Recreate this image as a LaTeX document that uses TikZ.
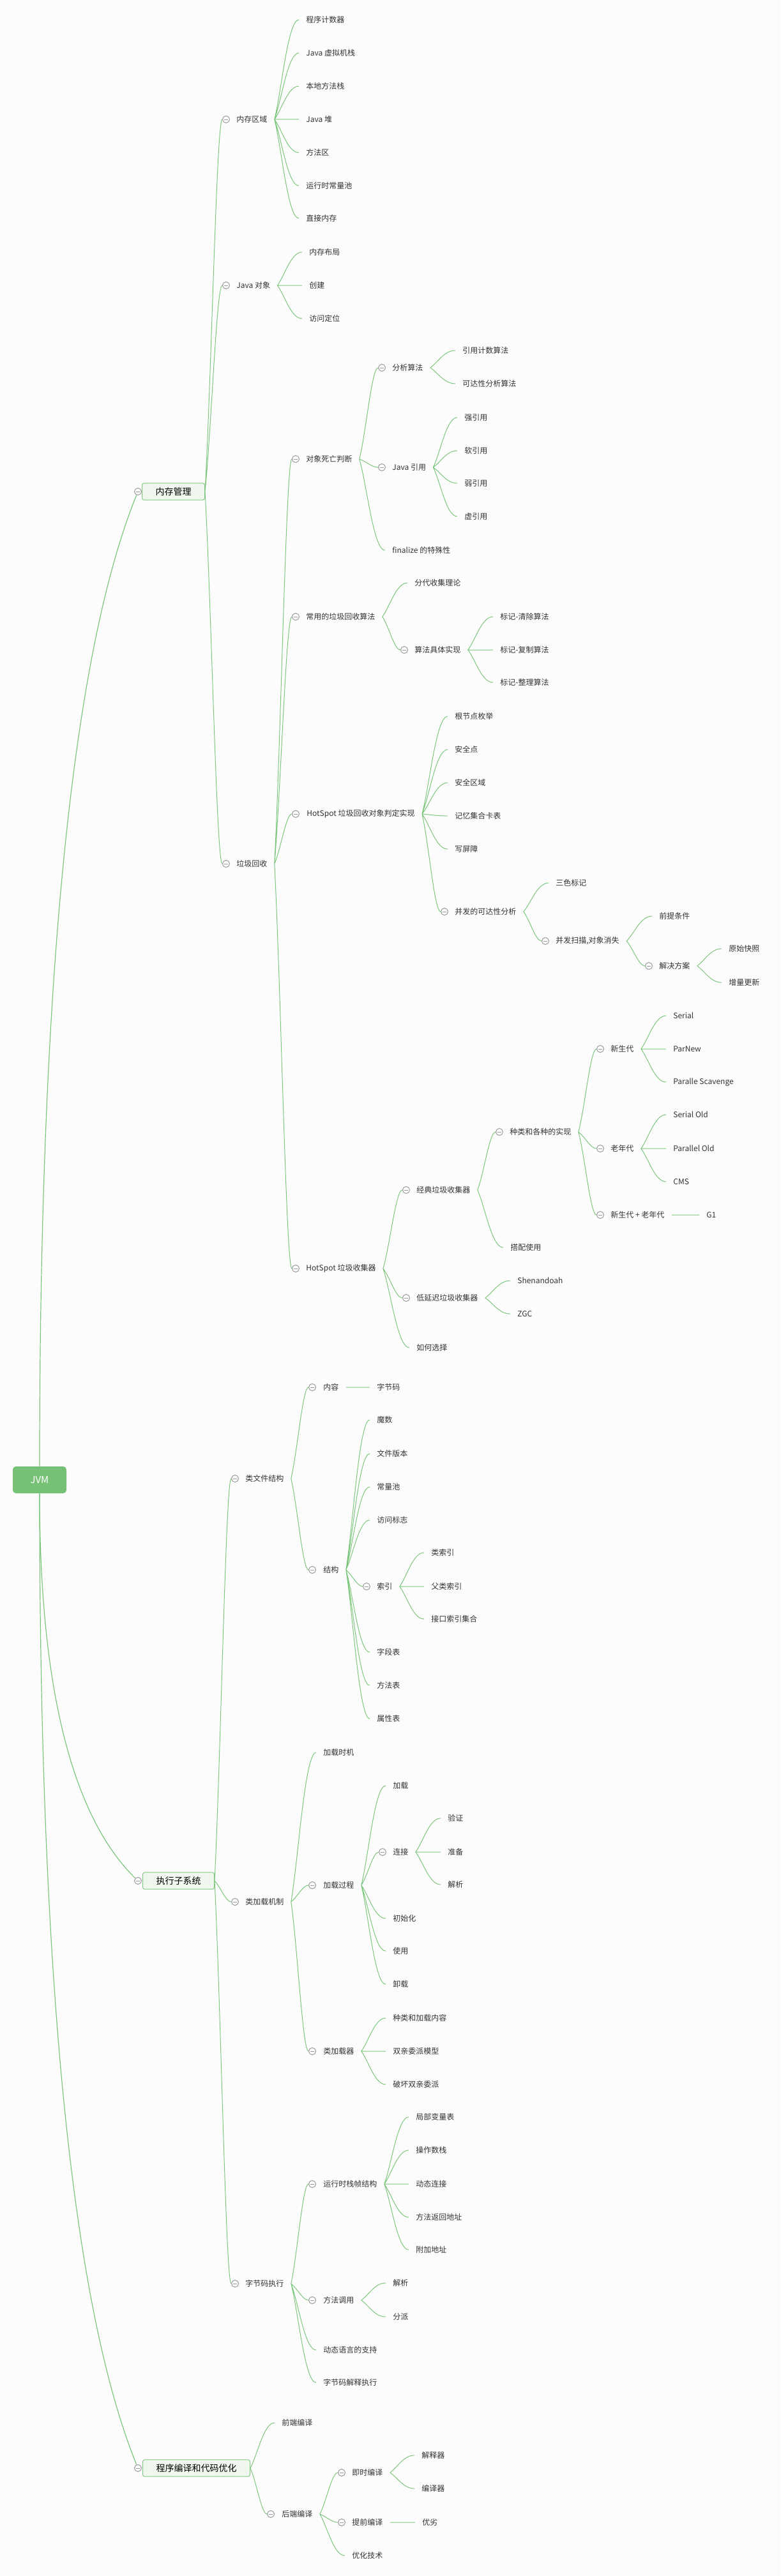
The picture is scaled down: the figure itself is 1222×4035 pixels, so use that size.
\documentclass[tikz,border=0pt]{standalone}
\usepackage{fontspec}
\newfontfamily\cjk{Noto Sans CJK SC}
\usetikzlibrary{calc}
\definecolor{paper}{HTML}{FCFCFC}
\definecolor{linkgreen}{HTML}{7DC67D}
\definecolor{boxfill}{HTML}{F0F7EE}
\definecolor{boxline}{HTML}{85C785}
\definecolor{rootgreen}{HTML}{76C176}
\definecolor{foldgray}{HTML}{9A9A9A}
\definecolor{inktext}{HTML}{333333}
\tikzset{
  item/.style={anchor=west, inner xsep=5.5pt, inner ysep=1pt, text=inktext, font=\cjk\fontsize{6}{7}\selectfont},
  box/.style={anchor=west, draw=boxline, fill=boxfill, rounded corners=1.5pt, line width=0.5pt, minimum height=13pt, inner xsep=10.5pt, text=black, font=\cjk\fontsize{7}{8}\selectfont},
  root/.style={fill=rootgreen, rounded corners=2.5pt, minimum width=42pt, minimum height=21pt, text=white, font=\cjk\fontsize{7.5}{9}\selectfont},
  fold/.style={circle, draw=foldgray, fill=white, line width=0.5pt, minimum size=5.5pt, inner sep=0pt,
    path picture={\draw[foldgray, line width=0.45pt] ([xshift=-1.7pt]path picture bounding box.center) -- ([xshift=1.7pt]path picture bounding box.center);}},
  link/.style={draw=linkgreen, line width=0.5pt, to path={.. controls ($(\tikztostart)!0.3!(\tikztotarget)$) and ($(\tikztotarget)!0.45!(\tikztotarget -| \tikztostart)$) .. (\tikztotarget)}},
  rootlink/.style={draw=linkgreen, line width=0.6pt}
}
\begin{document}
\begin{tikzpicture}[x=0.5pt,y=-0.5pt]
\fill[paper] (0,0) rectangle (1222,4035);

\node[root] (jvm) at (62,2318) {JVM};

\node[box] (mm) at (222,770) {内存管理};
\node[fold] (mm-o) at (216,770) {};
\node[box] (zx) at (223,2946) {执行子系统};
\node[fold] (zx-o) at (216,2946) {};
\node[box] (by) at (223,3866) {程序编译和代码优化};
\node[fold] (by-o) at (216,3866) {};

\node[fold] (mq-o) at (354,187) {};
\node[item] (mq) at (359,187) {内存区域};
\node[item] (mq1) at (468,31) {程序计数器};
\node[item] (mq2) at (468,83) {Java 虚拟机栈};
\node[item] (mq3) at (468,135) {本地方法栈};
\node[item] (mq4) at (468,187) {Java 堆};
\node[item] (mq5) at (468,239) {方法区};
\node[item] (mq6) at (468,291) {运行时常量池};
\node[item] (mq7) at (468,342) {直接内存};

\node[fold] (jo-o) at (354,447) {};
\node[item] (jo) at (359,447) {Java 对象};
\node[item] (jo1) at (473,395) {内存布局};
\node[item] (jo2) at (473,447) {创建};
\node[item] (jo3) at (473,499) {访问定位};

\node[fold] (gc-o) at (354,1353) {};
\node[item] (gc) at (359,1353) {垃圾回收};

\node[fold] (dd-o) at (463,719) {};
\node[item] (dd) at (468,719) {对象死亡判断};
\node[fold] (fx-o) at (598,576) {};
\node[item] (fx) at (603,576) {分析算法};
\node[item] (fx1) at (713,549) {引用计数算法};
\node[item] (fx2) at (713,601) {可达性分析算法};
\node[fold] (jr-o) at (598,732) {};
\node[item] (jr) at (603,732) {Java 引用};
\node[item] (jr1) at (716,654) {强引用};
\node[item] (jr2) at (716,706) {软引用};
\node[item] (jr3) at (716,757) {弱引用};
\node[item] (jr4) at (716,809) {虚引用};
\node[item] (fz) at (603,862) {finalize 的特殊性};

\node[fold] (cy-o) at (463,966) {};
\node[item] (cy) at (468,966) {常用的垃圾回收算法};
\node[item] (cy1) at (638,913) {分代收集理论};
\node[fold] (sf-o) at (633,1018) {};
\node[item] (sf) at (638,1018) {算法具体实现};
\node[item] (sf1) at (772,966) {标记-清除算法};
\node[item] (sf2) at (772,1018) {标记-复制算法};
\node[item] (sf3) at (772,1069) {标记-整理算法};

\node[fold] (hp-o) at (463,1275) {};
\node[item] (hp) at (469,1275) {HotSpot 垃圾回收对象判定实现};
\node[item] (hp1) at (701,1122) {根节点枚举};
\node[item] (hp2) at (701,1174) {安全点};
\node[item] (hp3) at (701,1226) {安全区域};
\node[item] (hp4) at (701,1278) {记忆集合卡表};
\node[item] (hp5) at (701,1330) {写屏障};
\node[fold] (bf-o) at (696,1428) {};
\node[item] (bf) at (701,1428) {并发的可达性分析};
\node[item] (bf1) at (859,1383) {三色标记};
\node[fold] (bs-o) at (854,1474) {};
\node[item] (bs) at (859,1474) {并发扫描,对象消失};
\node[item] (bs1) at (1021,1435) {前提条件};
\node[fold] (jj-o) at (1016,1513) {};
\node[item] (jj) at (1021,1513) {解决方案};
\node[item] (jj1) at (1130,1486) {原始快照};
\node[item] (jj2) at (1130,1539) {增量更新};

\node[fold] (hc-o) at (463,1987) {};
\node[item] (hc) at (468,1987) {HotSpot 垃圾收集器};
\node[fold] (jd-o) at (636,1864) {};
\node[item] (jd) at (641,1864) {经典垃圾收集器};
\node[fold] (zl-o) at (782,1773) {};
\node[item] (zl) at (787,1773) {种类和各种的实现};
\node[fold] (xs-o) at (940,1643) {};
\node[item] (xs) at (945,1643) {新生代};
\node[item] (xs1) at (1043,1591) {Serial};
\node[item] (xs2) at (1043,1643) {ParNew};
\node[item] (xs3) at (1043,1695) {Paralle Scavenge};
\node[fold] (ln-o) at (940,1799) {};
\node[item] (ln) at (945,1799) {老年代};
\node[item] (ln1) at (1043,1746) {Serial Old};
\node[item] (ln2) at (1043,1799) {Parallel Old};
\node[item] (ln3) at (1043,1851) {CMS};
\node[fold] (xl-o) at (940,1903) {};
\node[item] (xl) at (945,1903) {新生代 + 老年代};
\node[item] (xl1) at (1095,1903) {G1};
\node[item] (jd1) at (788,1954) {搭配使用};
\node[fold] (dy-o) at (636,2033) {};
\node[item] (dy) at (641,2033) {低延迟垃圾收集器};
\node[item] (dy1) at (799,2006) {Shenandoah};
\node[item] (dy2) at (799,2058) {ZGC};
\node[item] (hc1) at (641,2111) {如何选择};

\node[fold] (lw-o) at (368,2316) {};
\node[item] (lw) at (373,2316) {类文件结构};
\node[fold] (nr-o) at (489,2173) {};
\node[item] (nr) at (495,2173) {内容};
\node[item] (nr1) at (579,2173) {字节码};
\node[fold] (jg-o) at (489,2459) {};
\node[item] (jg) at (495,2459) {结构};
\node[item] (jg1) at (579,2224) {魔数};
\node[item] (jg2) at (579,2277) {文件版本};
\node[item] (jg3) at (579,2329) {常量池};
\node[item] (jg4) at (579,2381) {访问标志};
\node[fold] (sy-o) at (574,2485) {};
\node[item] (sy) at (579,2485) {索引};
\node[item] (sy1) at (664,2432) {类索引};
\node[item] (sy2) at (664,2485) {父类索引};
\node[item] (sy3) at (664,2536) {接口索引集合};
\node[item] (jg5) at (579,2588) {字段表};
\node[item] (jg6) at (579,2640) {方法表};
\node[item] (jg7) at (579,2692) {属性表};

\node[fold] (jz-o) at (368,2979) {};
\node[item] (jz) at (373,2979) {类加载机制};
\node[item] (jz1) at (495,2745) {加载时机};
\node[fold] (lg-o) at (489,2953) {};
\node[item] (lg) at (495,2953) {加载过程};
\node[item] (lg1) at (604,2797) {加载};
\node[fold] (lj-o) at (599,2901) {};
\node[item] (lj) at (604,2901) {连接};
\node[item] (lj1) at (690,2848) {验证};
\node[item] (lj2) at (690,2901) {准备};
\node[item] (lj3) at (690,2952) {解析};
\node[item] (lg2) at (604,3005) {初始化};
\node[item] (lg3) at (604,3056) {使用};
\node[item] (lg4) at (604,3108) {卸载};
\node[fold] (jq-o) at (489,3213) {};
\node[item] (jq) at (495,3213) {类加载器};
\node[item] (jq1) at (604,3161) {种类和加载内容};
\node[item] (jq2) at (604,3213) {双亲委派模型};
\node[item] (jq3) at (604,3265) {破坏双亲委派};

\node[fold] (zj-o) at (368,3577) {};
\node[item] (zj) at (373,3577) {字节码执行};
\node[fold] (zz-o) at (489,3421) {};
\node[item] (zz) at (495,3421) {运行时栈帧结构};
\node[item] (zz1) at (640,3316) {局部变量表};
\node[item] (zz2) at (640,3368) {操作数栈};
\node[item] (zz3) at (640,3421) {动态连接};
\node[item] (zz4) at (640,3473) {方法返回地址};
\node[item] (zz5) at (640,3524) {附加地址};
\node[fold] (ff-o) at (489,3603) {};
\node[item] (ff) at (495,3603) {方法调用};
\node[item] (ff1) at (604,3576) {解析};
\node[item] (ff2) at (604,3629) {分派};
\node[item] (zj1) at (495,3681) {动态语言的支持};
\node[item] (zj2) at (495,3732) {字节码解释执行};

\node[item] (by1) at (430,3795) {前端编译};
\node[fold] (hd-o) at (424,3938) {};
\node[item] (hd) at (430,3938) {后端编译};
\node[fold] (js-o) at (535,3873) {};
\node[item] (js) at (540,3873) {即时编译};
\node[item] (js1) at (649,3846) {解释器};
\node[item] (js2) at (649,3898) {编译器};
\node[fold] (tq-o) at (535,3951) {};
\node[item] (tq) at (540,3951) {提前编译};
\node[item] (tq1) at (650,3951) {优劣};
\node[item] (hd1) at (540,4003) {优化技术};

\draw[rootlink] (jvm.north) .. controls +(0,-763) and +(-103,254) .. (mm-o);
\draw[rootlink] (jvm.south) .. controls +(0,304) and +(-103,-101) .. (zx-o);
\draw[rootlink] (jvm.south) .. controls +(0,763) and +(-103,-254) .. (by-o);

\draw[link] (mm.east) to (mq-o) (mm.east) to (jo-o) (mm.east) to (gc-o);
\draw[link] (mq.east) to (mq1.west) (mq.east) to (mq2.west) (mq.east) to (mq3.west) (mq.east) to (mq4.west)
  (mq.east) to (mq5.west) (mq.east) to (mq6.west) (mq.east) to (mq7.west);
\draw[link] (jo.east) to (jo1.west) (jo.east) to (jo2.west) (jo.east) to (jo3.west);
\draw[link] (gc.east) to (dd-o) (gc.east) to (cy-o) (gc.east) to (hp-o) (gc.east) to (hc-o);
\draw[link] (dd.east) to (fx-o) (dd.east) to (jr-o) (dd.east) to (fz.west);
\draw[link] (fx.east) to (fx1.west) (fx.east) to (fx2.west);
\draw[link] (jr.east) to (jr1.west) (jr.east) to (jr2.west) (jr.east) to (jr3.west) (jr.east) to (jr4.west);
\draw[link] (cy.east) to (cy1.west) (cy.east) to (sf-o);
\draw[link] (sf.east) to (sf1.west) (sf.east) to (sf2.west) (sf.east) to (sf3.west);
\draw[link] (hp.east) to (hp1.west) (hp.east) to (hp2.west) (hp.east) to (hp3.west) (hp.east) to (hp4.west)
  (hp.east) to (hp5.west) (hp.east) to (bf-o);
\draw[link] (bf.east) to (bf1.west) (bf.east) to (bs-o);
\draw[link] (bs.east) to (bs1.west) (bs.east) to (jj-o);
\draw[link] (jj.east) to (jj1.west) (jj.east) to (jj2.west);
\draw[link] (hc.east) to (jd-o) (hc.east) to (dy-o) (hc.east) to (hc1.west);
\draw[link] (jd.east) to (zl-o) (jd.east) to (jd1.west);
\draw[link] (zl.east) to (xs-o) (zl.east) to (ln-o) (zl.east) to (xl-o);
\draw[link] (xs.east) to (xs1.west) (xs.east) to (xs2.west) (xs.east) to (xs3.west);
\draw[link] (ln.east) to (ln1.west) (ln.east) to (ln2.west) (ln.east) to (ln3.west);
\draw[link] (xl.east) to (xl1.west);
\draw[link] (dy.east) to (dy1.west) (dy.east) to (dy2.west);

\draw[link] (zx.east) to (lw-o) (zx.east) to (jz-o) (zx.east) to (zj-o);
\draw[link] (lw.east) to (nr-o) (lw.east) to (jg-o);
\draw[link] (nr.east) to (nr1.west);
\draw[link] (jg.east) to (jg1.west) (jg.east) to (jg2.west) (jg.east) to (jg3.west) (jg.east) to (jg4.west)
  (jg.east) to (sy-o) (jg.east) to (jg5.west) (jg.east) to (jg6.west) (jg.east) to (jg7.west);
\draw[link] (sy.east) to (sy1.west) (sy.east) to (sy2.west) (sy.east) to (sy3.west);
\draw[link] (jz.east) to (jz1.west) (jz.east) to (lg-o) (jz.east) to (jq-o);
\draw[link] (lg.east) to (lg1.west) (lg.east) to (lj-o) (lg.east) to (lg2.west) (lg.east) to (lg3.west) (lg.east) to (lg4.west);
\draw[link] (lj.east) to (lj1.west) (lj.east) to (lj2.west) (lj.east) to (lj3.west);
\draw[link] (jq.east) to (jq1.west) (jq.east) to (jq2.west) (jq.east) to (jq3.west);
\draw[link] (zj.east) to (zz-o) (zj.east) to (ff-o) (zj.east) to (zj1.west) (zj.east) to (zj2.west);
\draw[link] (zz.east) to (zz1.west) (zz.east) to (zz2.west) (zz.east) to (zz3.west) (zz.east) to (zz4.west) (zz.east) to (zz5.west);
\draw[link] (ff.east) to (ff1.west) (ff.east) to (ff2.west);

\draw[link] (by.east) to (by1.west) (by.east) to (hd-o);
\draw[link] (hd.east) to (js-o) (hd.east) to (tq-o) (hd.east) to (hd1.west);
\draw[link] (js.east) to (js1.west) (js.east) to (js2.west);
\draw[link] (tq.east) to (tq1.west);
\end{tikzpicture}
\end{document}
